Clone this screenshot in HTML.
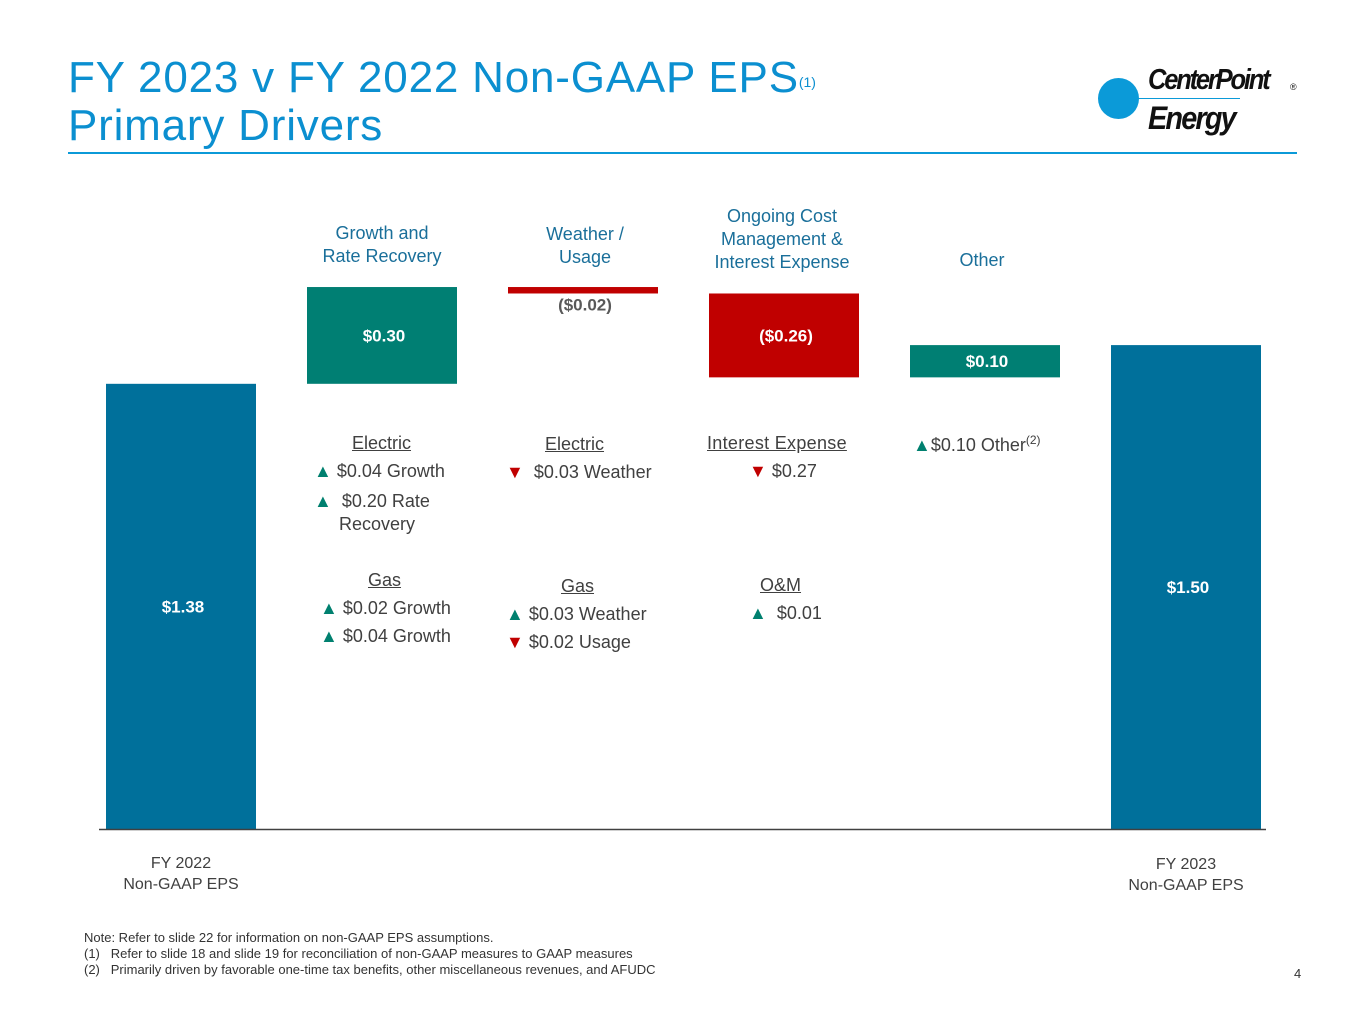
<!DOCTYPE html>
<html><head><meta charset="utf-8"><style>
body{margin:0;width:1365px;height:1024px;background:#fff;font-family:"Liberation Sans",sans-serif;position:relative;overflow:hidden}
.t{position:absolute;white-space:nowrap}
.h{color:#1a6f9a;font-size:18px;text-align:center;line-height:23px}
.a{color:#404040;font-size:18px}
.u{text-decoration:underline}
.up{color:#00806f}.dn{color:#c00000}
</style></head><body>
<div class="t" style="left:68px;top:54px;color:#0b8fd0;font-size:44px;line-height:48px;letter-spacing:0.8px">FY 2023 v FY 2022 Non-GAAP EPS<sup style="font-size:14px;vertical-align:top;position:relative;top:4px;letter-spacing:0">(1)</sup><br>Primary Drivers</div>
<div style="position:absolute;left:68px;top:152px;width:1229px;height:2px;background:#0b9ad8"></div>
<div style="position:absolute;left:1098px;top:62px;width:200px;height:80px">
<div style="position:absolute;left:0;top:16px;width:41px;height:41px;border-radius:50%;background:#0b9ad8"></div>
<div style="position:absolute;left:22px;top:36px;width:120px;height:1px;background:#0b9ad8"></div>
<div class="t" style="left:50px;top:2px;font-size:29px;font-weight:bold;font-style:italic;letter-spacing:-2.5px;color:#111;transform:scaleX(0.88);transform-origin:left">CenterPoint</div>
<div class="t" style="left:192px;top:20px;font-size:9px;color:#111">®</div>
<div class="t" style="left:50px;top:38px;font-size:32px;font-weight:bold;font-style:italic;letter-spacing:-2px;color:#111;transform:scaleX(0.9);transform-origin:left">Energy</div>
</div>
<svg id="chart" width="1365" height="1024" style="position:absolute;left:0;top:0"></svg>
<div class="t h" style="left:307px;width:150px;top:222px">Growth and<br>Rate Recovery</div>
<div class="t h" style="left:510px;width:150px;top:223px">Weather /<br>Usage</div>
<div class="t h" style="left:697px;width:170px;top:205px">Ongoing Cost<br>Management &amp;<br>Interest Expense</div>
<div class="t h" style="left:911px;width:142px;top:249px">Other</div>

<div class="t a u" style="left:352px;top:433px">Electric</div>
<div class="t a" style="left:314px;top:461px"><span class="up">▲</span> $0.04 Growth</div>
<div class="t a" style="left:314px;top:490px;line-height:23px"><span class="up">▲</span> &nbsp;$0.20 Rate<br>&nbsp;&nbsp;&nbsp;&nbsp;&nbsp;Recovery</div>
<div class="t a u" style="left:368px;top:570px">Gas</div>
<div class="t a" style="left:320px;top:598px"><span class="up">▲</span> $0.02 Growth</div>
<div class="t a" style="left:320px;top:626px"><span class="up">▲</span> $0.04 Growth</div>

<div class="t a u" style="left:545px;top:434px">Electric</div>
<div class="t a" style="left:506px;top:462px"><span class="dn">▼</span> &nbsp;$0.03 Weather</div>
<div class="t a u" style="left:561px;top:576px">Gas</div>
<div class="t a" style="left:506px;top:604px"><span class="up">▲</span> $0.03 Weather</div>
<div class="t a" style="left:506px;top:632px"><span class="dn">▼</span> $0.02 Usage</div>

<div class="t a u" style="left:707px;top:433px;letter-spacing:0.3px">Interest Expense</div>
<div class="t a" style="left:749px;top:461px"><span class="dn">▼</span> $0.27</div>
<div class="t a u" style="left:760px;top:575px">O&amp;M</div>
<div class="t a" style="left:749px;top:603px"><span class="up">▲</span> &nbsp;$0.01</div>

<div class="t a" style="left:913px;top:433px"><span class="up">▲</span>$0.10 Other<sup style="font-size:12px">(2)</sup></div>

<div class="t" style="left:106px;width:150px;top:853px;text-align:center;color:#404040;font-size:16px;line-height:21px">FY 2022<br>Non-GAAP EPS</div>
<div class="t" style="left:1111px;width:150px;top:854px;text-align:center;color:#404040;font-size:16px;line-height:21px">FY 2023<br>Non-GAAP EPS</div>

<div class="t" style="left:84px;top:930px;font-size:13px;color:#333;line-height:16px">Note: Refer to slide 22 for information on non-GAAP EPS assumptions.<br>(1)&nbsp;&nbsp;&nbsp;Refer to slide 18 and slide 19 for reconciliation of non-GAAP measures to GAAP measures<br>(2)&nbsp;&nbsp;&nbsp;Primarily driven by favorable one-time tax benefits, other miscellaneous revenues, and AFUDC</div>
<div class="t" style="left:1294px;top:966px;font-size:13px;color:#333">4</div>
<script>
const categories=["FY 2022","Growth and Rate Recovery","Weather / Usage","Cost Mgmt & Interest","Other","FY 2023"];
const values=[1.38,0.30,-0.02,-0.26,0.10,1.50];
const kinds=["total","delta","delta","delta","delta","total"];
const labels=["$1.38","$0.30","($0.02)","($0.26)","$0.10","$1.50"];
const NS="http://www.w3.org/2000/svg";
const svg=document.getElementById('chart');
const base=829,k=322.6,x0=106,step=201,bw=150;
const y=v=>base-v*k;
const xb=i=>x0+i*step;
function mk(t,a){const e=document.createElementNS(NS,t);for(const n in a)e.setAttribute(n,a[n]);svg.appendChild(e);return e;}
let run=0;
values.forEach((v,i)=>{
  let lo,hi,fill;
  if(kinds[i]==="total"){lo=0;hi=v;run=v;fill="#00709b";}
  else{const s=run;run+=v;lo=Math.min(s,run);hi=Math.max(s,run);fill=v>=0?"#007f73":"#c00000";}
  const r=mk('rect',{x:xb(i),y:y(hi),width:bw,height:y(lo)-y(hi),fill:fill});
  
  
  const h=y(lo)-y(hi);
  let ty,col="#fff";
  if(h<20){ty=y(lo)+17;col="#595959";}else ty=(y(lo)+y(hi))/2+6;
  const t=mk('text',{x:xb(i)+bw/2+2,y:ty,'text-anchor':'middle','font-family':'Liberation Sans, sans-serif','font-size':17,'font-weight':'bold',fill:col});
  t.textContent=labels[i];
  
  
});
const ax=mk('line',{x1:99,x2:1266,y1:base+0.5,y2:base+0.5,stroke:'#404040','stroke-width':1.5});


</script>
</body></html>
